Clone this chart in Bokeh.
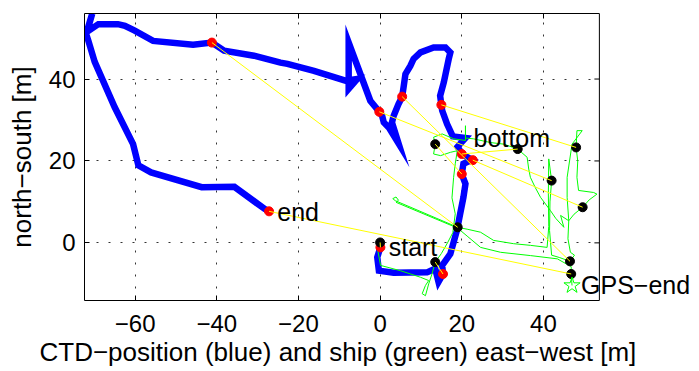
from bokeh.plotting import figure
from bokeh.models import Range1d, FixedTicker, LinearAxis, Label, Title, Span, BoxAnnotation
from bokeh.embed import file_html
from bokeh.resources import INLINE

# CTD (blue) track, start -> end
ctd_x = [0.07, -0.7, -0.3, 3.3, 11.5, 13.5, 14.3, 15.4, 15.2, 17.2, 18.8, 19.6, 20.4, 20.9, 20.0,
         20.4, 22.5, 20.0, 19.0, 20.9, 17.8, 16.4, 15.2, 15.0, 14.7, 15.6, 16.8, 17.2, 16.0, 13.1,
         9.9, 8.2, 7.4, 6.2, 5.8, 5.4, 4.5, 3.3, 2.9, 4.5, 2.1, 0.9, 0.5, -0.2, -2.4, -7.7,
         -7.7, -5.6, -8.5, -16.2, -22.7, -24.4, -30.9, -38.2, -41.2, -45.8, -55.6, -60.1, -62.5,
         -64.2, -69.0, -71.8, -70.5, -72.0, -71.5, -69.9, -65.0, -60.5, -59.2, -56.1, -43.7, -35.7,
         -28.3, -27.2]
ctd_y = [-1.1, -3.5, -6.8, -7.3, -7.2, -6.3, -9.5, -7.6, -5.5, -2.7, 3.0, 7.1, 11.1, 14.4, 16.8,
         19.3, 20.3, 21.7, 23.5, 25.6, 26.0, 29.0, 32.3, 33.7, 35.9, 39.2, 44.9, 46.5, 47.7, 47.7,
         46.5, 44.9, 43.2, 41.2, 38.4, 35.7, 33.9, 31.0, 29.4, 24.3, 28.2, 29.4, 31.0, 32.0, 34.7,
         48.9, 37.6, 40.0, 39.6, 42.0, 43.7, 44.0, 45.7, 46.9, 48.9, 48.4, 49.3, 51.8, 53.0,
         53.4, 53.4, 51.5, 56.0, 51.0, 49.5, 44.2, 33.1, 24.1, 18.9, 17.2, 13.6, 13.7, 8.3, 7.7]

# ship (green) GPS track
ship_x = [0.0, -0.7, 0.1, 5.0, 9.9, 11.9, 11.1, 10.3, 11.1, 11.9, 12.7, 13.5, 15.0, 16.5, 17.8,
          18.4, 17.6, 18.0, 18.4, 18.9, 17.2, 14.8, 13.1, 13.5, 13.1, 15.2, 18.0, 20.9, 20.9, 20.9,
          22.9, 27.0, 30.3, 33.7, 36.0, 36.4, 36.8, 38.0, 39.3, 41.7, 43.0, 45.0, 44.2, 46.2, 47.5,
          49.6, 51.2, 53.1, 52.3, 48.6, 48.2, 48.4, 48.0, 48.2, 49.5, 47.0, 45.8, 45.8, 46.2, 46.0,
          46.6, 47.6, 46.5, 44.0, 42.0, 41.5, 41.6, 42.0, 41.3, 41.2, 41.3, 40.9, 36.8, 32.7, 27.8,
          24.6, 21.5, 19.0, 3.7, 3.1, 3.9, 4.5, 3.9, 19.0, 21.5, 24.6, 29.5, 36.8, 43.4, 46.8, 46.8,
          47.0]
ship_y = [0.1, -1.1, -5.5, -6.8, -8.4, -9.2, -10.4, -12.4, -12.9, -10.0, -7.6, -4.7, -2.6, 0.0, 2.5,
          7.1, 11.0, 16.0, 19.3, 22.5, 22.1, 21.3, 21.7, 24.1, 25.8, 26.6, 25.4, 25.0, 28.6, 25.6,
          25.4, 24.5, 24.1, 22.9, 20.9, 18.0, 16.0, 13.5, 11.1, 7.9, 6.0, 3.8, 6.7, 5.4, 7.0,
          8.7, 10.5, 11.9, 12.3, 12.8, 16.0, 20.0, 23.3, 27.4, 27.4, 24.1, 16.0, 11.1, 5.4, 1.0,
          -2.3, -3.0, -4.5, -3.6, -3.0, 3.0, 10.0, 15.2, 20.5, 12.0, 4.0, -1.1, -0.6, -0.2, 0.6,
          2.6, 3.3, 3.8, 10.3, 10.8, 11.2, 10.4, 9.9, 3.6, 1.5, -1.1, -2.3, -3.1, -3.9, -5.8, -7.6,
          -10.4]

# CTD positions (red) and ship positions (black) at the same moments
ctd_mark_x = [0.07, 15.4, 20.0, 22.7, 20.0, 15.0, 5.4, -0.2, -41.2, -27.2]
ctd_mark_y = [-1.1, -7.6, 16.8, 20.2, 21.7, 33.7, 35.7, 32.0, 48.9, 7.7]
ship_mark_x = [0.0, 13.5, 13.5, 49.6, 33.7, 48.0, 46.5, 42.0, 19.0, 46.8]
ship_mark_y = [0.1, -4.7, 24.1, 8.7, 22.9, 23.3, -4.5, 15.2, 3.8, -7.6]

gps_end_x = [47.0]
gps_end_y = [-10.4]

label_text = ["start", "bottom", "end", "GPS\u2212end"]
label_x = [2.1, 22.9, -25.2, 49.2]
label_y = [-1.1, 25.7, 7.6, -10.2]

x_ticks = [-60, -40, -20, 0, 20, 40]
x_tick_labels = ["\u221260", "\u221240", "\u221220", "0", "20", "40"]
y_ticks = [0, 20, 40]
y_tick_labels = ["0", "20", "40"]

x_title = "CTD\u2212position (blue) and ship (green) east\u2212west [m]"
y_title = "north\u2212south [m]"

# axes box limits (data units); the drawing area continues to the right so
# that the "GPS-end" text may run past the box as in the original
X_LO, X_BOX, X_HI = -72.4, 53.7, 77.24
Y_LO, Y_HI = -14.07, 56.0
TICK_LEN_X = 1.22   # 5 px inward tick on the right side of the box

FONT = "Liberation Sans"

p = figure(width=699, height=371, output_backend="svg", toolbar_location=None,
           x_range=Range1d(X_LO, X_HI), y_range=Range1d(Y_LO, Y_HI),
           min_border_left=84, min_border_right=4, min_border_top=13, min_border_bottom=71)
p.background_fill_color = "white"
p.border_fill_color = "white"
p.outline_line_color = None

for ax, ticks, labels in ((p.xaxis[0], x_ticks, x_tick_labels), (p.yaxis[0], y_ticks, y_tick_labels)):
    ax.ticker = FixedTicker(ticks=ticks)
    ax.major_label_overrides = dict(zip(ticks, labels))
    ax.major_tick_in = 5
    ax.major_tick_out = 0
    ax.minor_tick_line_color = None
    ax.axis_line_color = "black"
    ax.major_tick_line_color = "black"
    ax.major_label_text_font = FONT
    ax.major_label_text_font_size = "24px"
    ax.major_label_text_color = "black"

p.xaxis.bounds = (X_LO, X_BOX)
p.xaxis.major_label_standoff = 14
p.yaxis.major_label_standoff = 9
p.yaxis.axis_label = y_title
p.yaxis.axis_label_text_font = FONT
p.yaxis.axis_label_text_font_size = "26px"
p.yaxis.axis_label_text_font_style = "normal"
p.yaxis.axis_label_text_color = "black"
p.yaxis.axis_label_standoff = 9

top_axis = LinearAxis(ticker=FixedTicker(ticks=x_ticks), bounds=(X_LO, X_BOX),
                      major_tick_in=5, major_tick_out=0, minor_tick_line_color=None,
                      major_label_text_color=None, major_label_text_font_size="1px",
                      major_label_standoff=0, axis_line_color="black", major_tick_line_color="black")
p.add_layout(top_axis, "above")

p.add_layout(Title(text=x_title, align="left", offset=-45, standoff=0,
                   text_font=FONT, text_font_size="26px", text_font_style="normal",
                   text_color="black"), "below")

for g, ticks in ((p.xgrid[0], x_ticks), (p.ygrid[0], y_ticks)):
    g.ticker = FixedTicker(ticks=ticks)
    g.grid_line_color = "#333333"
    g.grid_line_dash = "2 10"
    g.grid_line_width = 1
    g.grid_line_alpha = 1

# white area right of the box hides the grid there
p.add_layout(BoxAnnotation(left=X_BOX, fill_color="white", fill_alpha=1, line_color=None, level="underlay"))

p.line(ctd_x, ctd_y, line_color="#0000ff", line_width=6.5, line_join="miter")
p.line(ship_x, ship_y, line_color="#00ff00", line_width=1)
p.scatter(ctd_mark_x, ctd_mark_y, marker="circle", size=9, fill_color="#ff0000", line_color="#ff0000")
p.scatter(ship_mark_x, ship_mark_y, marker="circle", size=9, fill_color="black", line_color="black")
p.segment(x0=ctd_mark_x, y0=ctd_mark_y, x1=ship_mark_x, y1=ship_mark_y, line_color="#ffff00", line_width=1)
p.scatter(gps_end_x, gps_end_y, marker="star", size=17, fill_color=None, line_color="#00ff00", line_width=1)

# right edge of the box with inward ticks
p.add_layout(Span(location=X_BOX, dimension="height", line_color="black", line_width=1))
p.segment(x0=[X_BOX] * len(y_ticks), y0=y_ticks, x1=[X_BOX - TICK_LEN_X] * len(y_ticks), y1=y_ticks,
          line_color="black", line_width=1)

for t, lx, ly in zip(label_text, label_x, label_y):
    p.add_layout(Label(x=lx, y=ly, text=t, text_font=FONT, text_font_size="25px",
                       text_color="black", text_align="left", text_baseline="alphabetic"))

open("out.html", "w").write(file_html(p, INLINE))
